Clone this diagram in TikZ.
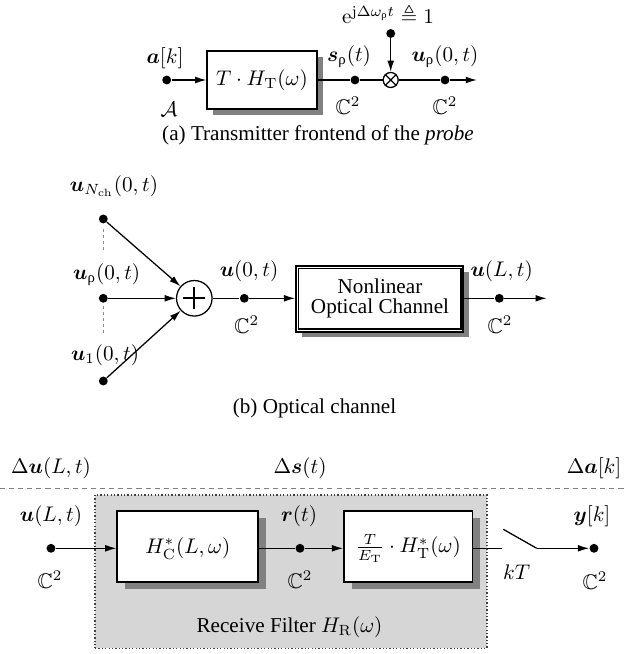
\documentclass[tikz,border=0pt]{standalone}
\usepackage{amsmath,amssymb,bm}
\usepackage[no-math]{fontspec}
\setmainfont{Liberation Serif}
\usetikzlibrary{arrows.meta,fit,shadows}
\newcommand{\urh}{\text{\upshape ρ}}
\tikzset{
  ln/.style={line width=0.6pt},
  arr/.style={ln,-{Latex[length=5.3pt,width=3.2pt]}},
  dot/.style={circle,fill=black,inner sep=0pt,minimum size=4.2pt},
  blk/.style={draw,line width=0.8pt,fill=white,inner sep=0pt,
    drop shadow={shadow xshift=#1,shadow yshift=-#1,fill=black!50,opacity=1}},
  blk/.default=3pt,
  lbl/.style={inner sep=0pt,anchor=center},
  gdash/.style={black!45,line width=0.6pt,dash pattern=on 1.4pt off 1.4pt},
}
\begin{document}
\begin{tikzpicture}[x=0.4728pt,y=-0.4728pt]
\useasboundingbox (0,0) rectangle (624,654);
% ---------- (a) ----------
\node[dot] (ain) at (166.7,80) {};
\node[blk=2.9pt,fit={(207.3,50.7) (316.7,109.3)}] (tx) {};
\node[lbl] (txl) at (tx.center) {$T\cdot H_{\mathrm{T}}(\omega)$};
\node[dot] (sr) at (355,80) {};
\node[circle,draw,ln,inner sep=0pt,minimum size=7.1pt] (mx) at (390.7,80) {};
\draw[ln] (mx.45) -- (mx.225) (mx.135) -- (mx.315);
\node[dot] (ej) at (390.7,33.5) {};
\node[dot] (ur) at (445,80) {};
\coordinate (aend) at (477,80);
\draw[arr] (ain) -- (ain -| tx.west);
\draw[ln] (tx.east |- sr) -- (sr);
\draw[ln] (sr) -- (mx);
\draw[arr] (ej) -- (mx);
\draw[ln] (mx) -- (ur);
\draw[arr] (ur) -- (aend);
\node[lbl] (lak) at (165,58) {$\bm{a}[k]$};
\node[lbl] (lA) at (169,109) {$\mathcal{A}$};
\node[lbl] (lsr) at (349,57) {$\bm{s}_{\urh}(t)$};
\node[lbl] (lc1) at (348,106) {$\mathbb{C}^2$};
\node[lbl] (lur) at (445,57) {$\bm{u}_{\urh}(0,t)$};
\node[lbl] (lc2) at (445,106) {$\mathbb{C}^2$};
\node[lbl] (lej) at (388,15) {$\mathrm{e}^{\mathrm{j}\Delta\omega_{\urh}t}\triangleq 1$};
\node[lbl] (capa) at (318,135) {(a) Transmitter frontend of the \textit{probe}};
% ---------- (b) ----------
\node[dot] (nch) at (103.3,219) {};
\node[dot] (urho) at (103.3,298.3) {};
\node[dot] (u1) at (103.3,381) {};
\node[circle,draw,ln,inner sep=0pt,minimum size=16.8pt] (sum) at (194.3,298.3) {};
\draw[line width=1.1pt] ([xshift=-5.2pt]sum.center) -- ([xshift=5.2pt]sum.center);
\draw[line width=1.1pt] ([yshift=-5.2pt]sum.center) -- ([yshift=5.2pt]sum.center);
\draw[arr] (nch) -- (sum);
\draw[arr] (urho) -- (sum);
\draw[arr] (u1) -- (sum);
\coordinate (d1a) at (103.3,229); \coordinate (d1b) at (103.3,250);
\coordinate (d2a) at (103.3,306); \coordinate (d2b) at (103.3,333);
\draw[gdash] (d1a) -- (d1b);
\draw[gdash] (d2a) -- (d2b);
\node[dot] (u0) at (244.3,298.3) {};
\node[blk=2.7pt,fit={(296,266) (463.3,331.7)}] (ch) {};
\draw[line width=0.8pt] ([shift={(3.3,3.3)}]ch.north west) rectangle ([shift={(-3.3,-3.3)}]ch.south east);
\node[lbl,align=center] (chl) at (380,298.3) {Nonlinear\\[-2.5pt]Optical Channel};
\node[dot] (uL) at (499.3,298.3) {};
\coordinate (bend) at (546.7,298.3);
\draw[ln] (sum) -- (u0);
\draw[arr] (u0) -- (u0 -| ch.west);
\draw[ln] (ch.east |- uL) -- (uL);
\draw[arr] (uL) -- (bend);
\node[lbl] (lnch) at (114,186) {$\bm{u}_{N_{\mathrm{ch}}}(0,t)$};
\node[lbl] (lurho) at (106.7,275) {$\bm{u}_{\urh}(0,t)$};
\node[lbl] (lu1) at (105,355) {$\bm{u}_{1}(0,t)$};
\node[lbl] (lu0) at (249,271.7) {$\bm{u}(0,t)$};
\node[lbl] (lc3) at (246.7,325) {$\mathbb{C}^2$};
\node[lbl] (luL) at (501.7,271.7) {$\bm{u}(L,t)$};
\node[lbl] (lc4) at (500,325) {$\mathbb{C}^2$};
\node[lbl] (capb) at (314.5,408) {(b) Optical channel};
% ---------- (c) ----------
\coordinate (dl) at (0,488.3); \coordinate (dr) at (624,488.3);
\draw[black!50,line width=0.6pt,dash pattern=on 2.4pt off 1.9pt] (dl) -- (dr);
\node[fit={(95,495) (487,648.3)},inner sep=0pt,fill=black!16,draw=black!75,line width=0.6pt,densely dotted] (rf) {};
\node[dot] (cin) at (51,548.3) {};
\node[blk=3.6pt,fit={(117.3,510.7) (258.3,581.7)}] (hc) {};
\node[lbl] (hcl) at (187.8,548.3) {$H^{*}_{\mathrm{C}}(L,\omega)$};
\node[dot] (rt) at (300,548.3) {};
\node[blk=3.6pt,fit={(344,510.7) (472.5,581.7)}] (ht) {};
\node[lbl] (htl) at (408.2,548.3) {$\frac{T}{E_{\mathrm{T}}}\cdot H^{*}_{\mathrm{T}}(\omega)$};
\coordinate (sw0) at (501.7,548.3);
\coordinate (swa) at (503.3,529.3);
\coordinate (swb) at (536.7,548.3);
\node[dot] (yk) at (594,548.3) {};
\draw[arr] (cin) -- (cin -| hc.west);
\draw[ln] (hc.east |- rt) -- (rt);
\draw[arr] (rt) -- (rt -| ht.west);
\draw[ln] (ht.east |- sw0) -- (sw0);
\draw[ln] (swa) -- (swb);
\draw[arr] (swb) -- (yk);
\node[lbl] (ldu) at (51,468) {$\Delta\bm{u}(L,t)$};
\node[lbl] (lds) at (300,468) {$\Delta\bm{s}(t)$};
\node[lbl] (lda) at (594,468) {$\Delta\bm{a}[k]$};
\node[lbl] (luL2) at (51,516.7) {$\bm{u}(L,t)$};
\node[lbl] (lc5) at (50,580) {$\mathbb{C}^2$};
\node[lbl] (lrt) at (299,516.7) {$\bm{r}(t)$};
\node[lbl] (lc6) at (300,580) {$\mathbb{C}^2$};
\node[lbl] (lkT) at (516.7,572) {$kT$};
\node[lbl] (lyk) at (592,516.7) {$\bm{y}[k]$};
\node[lbl] (lc7) at (595,581) {$\mathbb{C}^2$};
\node[lbl] (lrf) at (289.5,627.3) {Receive Filter $H_{\mathrm{R}}(\omega)$};
\end{tikzpicture}
\end{document}
